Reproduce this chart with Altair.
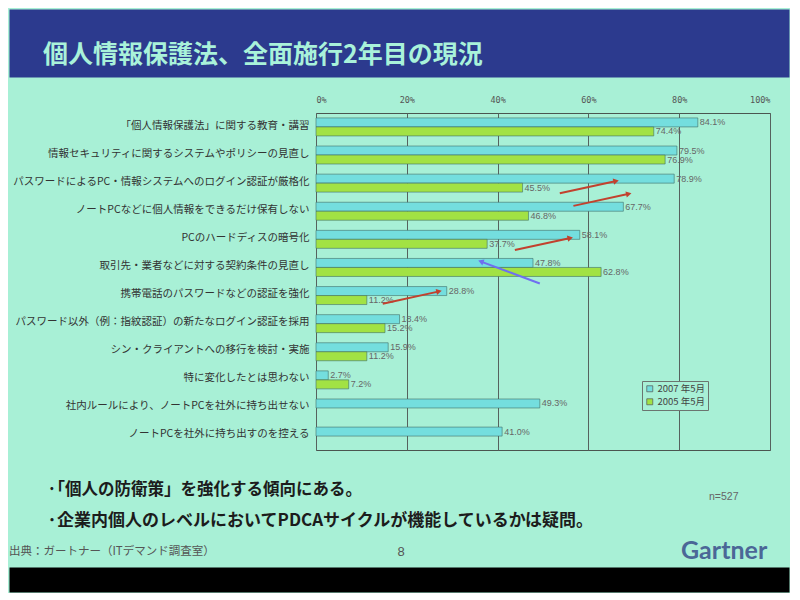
import math
import altair as alt
import pandas as pd

JP = "Noto Sans CJK JP"
MINT = "#a8f0d6"
BAND = "#2c3a8e"
CYAN = "#74dede"
GREEN = "#a2e244"

slide_title = "個人情報保護法、全面施行2年目の現況"
notes = [
    "·「個人の防衛策」を強化する傾向にある。",
    "·企業内個人のレベルにおいてPDCAサイクルが機能しているかは疑問。",
]
sample_note = "n=527"
source_note = "出典：ガートナー（ITデマンド調査室）"
page_number = "8"
brand = "Gartner"

categories = [
    "「個人情報保護法」に関する教育・講習",
    "情報セキュリティに関するシステムやポリシーの見直し",
    "パスワードによるPC・情報システムへのログイン認証が厳格化",
    "ノートPCなどに個人情報をできるだけ保有しない",
    "PCのハードディスの暗号化",
    "取引先・業者などに対する契約条件の見直し",
    "携帯電話のパスワードなどの認証を強化",
    "パスワード以外（例：指紋認証）の新たなログイン認証を採用",
    "シン・クライアントへの移行を検討・実施",
    "特に変化したとは思わない",
    "社内ルールにより、ノートPCを社外に持ち出せない",
    "ノートPCを社外に持ち出すのを控える",
]
values_2007 = [84.1, 79.5, 78.9, 67.7, 58.1, 47.8, 28.8, 18.4, 15.9, 2.7, 49.3, 41.0]
values_2005 = [74.4, 76.9, 45.5, 46.8, 37.7, 62.8, 11.2, 15.2, 11.2, 7.2, None, None]
series_names = ["2007 年5月", "2005 年5月"]
x_ticks = [0, 20, 40, 60, 80, 100]

# hand-drawn annotation arrows (x in %, y in category-row units)
arrow_from_pct = [53.7, 56.7, 43.8, 14.7, 49.3]
arrow_to_pct = [65.9, 68.7, 55.8, 26.9, 36.5]
arrow_from_row = [2.68, 3.13, 4.70, 6.61, 5.89]
arrow_to_row = [2.25, 2.71, 4.28, 6.18, 5.12]
arrow_kind = ["up", "up", "up", "up", "down"]

# ---- layout parameters
PLOT_W, PLOT_H = 454, 337
PAD_INNER, PAD_OUTER = 0.36, 0.175
n = len(categories)
step = PLOT_H / (n - PAD_INNER + 2 * PAD_OUTER)
px_pct = PLOT_W / 100.0

rows = []
for c, a, b in zip(categories, values_2007, values_2005):
    rows.append(dict(cat=c, series=series_names[0], value=a))
    if b is not None:
        rows.append(dict(cat=c, series=series_names[1], value=b))
df = pd.DataFrame(rows)
df["label"] = df["value"].map(lambda v: f"{v:.1f}%")

arrows = pd.DataFrame(dict(x1=arrow_from_pct, x2=arrow_to_pct,
                           r1=arrow_from_row, r2=arrow_to_row, kind=arrow_kind))
arrows["angle"] = [
    math.degrees(math.atan2((b - a) * px_pct, -(d - c) * step)) % 360
    for a, b, c, d in zip(arrow_from_pct, arrow_to_pct, arrow_from_row, arrow_to_row)
]

y_band = alt.Scale(domain=categories, paddingInner=PAD_INNER, paddingOuter=PAD_OUTER)
x_scale = alt.Scale(domain=[0, 100], nice=False, zero=True)
off_scale = alt.Scale(domain=series_names)
x_axis = alt.Axis(orient="top", values=x_ticks, labelExpr="datum.value + '%'",
                  grid=True, gridColor="#56625e", gridWidth=1, domain=False,
                  ticks=False, labelPadding=9, labelFont="DejaVu Sans Mono",
                  labelFontSize=8.5, labelColor="#555", title=None)

bars = alt.Chart(df).mark_bar(stroke="#3f6f68", strokeWidth=0.6).encode(
    x=alt.X("value:Q", scale=x_scale, title=None, axis=x_axis),
    y=alt.Y("cat:N", scale=y_band, title=None,
            axis=alt.Axis(labels=False, domain=False, ticks=True, tickBand="extent",
                          tickSize=3, tickColor="#4a5550", grid=False)),
    yOffset=alt.YOffset("series:N", scale=off_scale),
    color=alt.Color("series:N", scale=alt.Scale(domain=series_names, range=[CYAN, GREEN]),
                    legend=alt.Legend(orient="none", legendX=633, legendY=372, title=None,
                                      direction="vertical", symbolType="square",
                                      symbolSize=36, symbolStrokeColor="#555",
                                      symbolStrokeWidth=0.7, labelFont=JP,
                                      labelFontSize=9.5, labelColor="#444",
                                      strokeColor="#6b7570", fillColor=MINT, padding=3,
                                      rowPadding=2, labelOffset=3)),
)

vlabels = alt.Chart(df).mark_text(align="left", baseline="middle", dx=2,
                                  font="Liberation Sans", fontSize=9, color="#666").encode(
    x=alt.X("value:Q", scale=x_scale, title=None, axis=x_axis),
    y=alt.Y("cat:N", scale=y_band, axis=None),
    yOffset=alt.YOffset("series:N", scale=off_scale),
    text="label:N",
)

arrow_y = alt.Scale(domain=[-PAD_OUTER, n - PAD_INNER + PAD_OUTER], reverse=True,
                    nice=False, zero=False)
arrow_colors = alt.Scale(domain=["up", "down"], range=["#c2412e", "#6f6ff0"])
arrow_lines = alt.Chart(arrows).mark_rule(strokeWidth=2).encode(
    x=alt.X("x1:Q", scale=x_scale, title=None, axis=x_axis), x2="x2:Q",
    y=alt.Y("r1:Q", scale=arrow_y, axis=None), y2="r2:Q",
    stroke=alt.Stroke("kind:N", scale=arrow_colors, legend=None),
)
arrow_heads = alt.Chart(arrows).mark_point(shape="triangle", filled=True, size=40,
                                           opacity=1).encode(
    x=alt.X("x2:Q", scale=x_scale, title=None, axis=x_axis),
    y=alt.Y("r2:Q", scale=arrow_y, axis=None),
    angle=alt.Angle("angle:Q", scale=None),
    fill=alt.Fill("kind:N", scale=arrow_colors, legend=None),
)

plot = alt.layer(
    alt.layer(bars, vlabels),
    alt.layer(arrow_lines, arrow_heads),
).resolve_scale(y="independent").properties(
    width=PLOT_W, height=PLOT_H,
    view=alt.ViewBackground(stroke="#4a5550", strokeWidth=1),
)

label_panel = alt.Chart(df).mark_point(opacity=0, size=1).encode(
    x=alt.value(150),
    y=alt.Y("cat:N", scale=y_band, title=None,
            axis=alt.Axis(orient="right", labelAlign="right", labelPadding=0, ticks=False,
                          tickSize=0, domain=False, grid=False, labelFont=JP,
                          labelFontSize=10.5, labelColor="#333", labelLimit=400,
                          labelOffset=-2)),
).properties(width=300, height=PLOT_H)


def text_mark(txt, x, y, **kw):
    return alt.Chart(pd.DataFrame({"t": [txt]})).mark_text(**kw).encode(
        x=alt.value(x), y=alt.value(y), text="t:N")


top_band = text_mark(slide_title, 34, 46, align="left", baseline="middle", font=JP,
                     fontSize=25, fontWeight="bold", color="#a9f2da").properties(
    width=780, height=68, view=alt.ViewBackground(fill=BAND, stroke="transparent"))

bottom = alt.layer(
    text_mark(notes[0], 38, 38, align="left", baseline="middle", font=JP, fontSize=16.5,
              fontWeight="bold", color="#1c1c1c"),
    text_mark(notes[1], 38, 69, align="left", baseline="middle", font=JP, fontSize=17,
              fontWeight="bold", color="#1c1c1c"),
    text_mark(sample_note, 700, 45, align="left", baseline="middle",
              font="Liberation Sans", fontSize=10.5, color="#666"),
    text_mark(source_note, 0, 100, align="left", baseline="middle", font=JP,
              fontSize=11.5, color="#555"),
    text_mark(page_number, 392, 100, align="center", baseline="middle",
              font="Liberation Sans", fontSize=13, color="#555"),
    text_mark(brand, 672, 99, align="left", baseline="middle", font="Lato",
              fontSize=25, fontWeight="bold", color="#4b6797"),
).properties(width=780, height=113)

black = alt.Chart(pd.DataFrame({"a": [0]})).mark_point(opacity=0, size=1).encode(
    x=alt.value(10), y=alt.value(10)
).properties(width=780, height=25, view=alt.ViewBackground(fill="black", stroke="transparent"))

row = alt.hconcat(label_panel, plot, spacing=5)
inner = alt.vconcat(row, bottom, black, spacing=0)
chart = alt.vconcat(top_band, inner, spacing=16).properties(padding=0).configure(
    background=MINT, font=JP
).configure_view(stroke="transparent")

chart.save("out.html", embed_options={"renderer": "svg", "actions": False})
